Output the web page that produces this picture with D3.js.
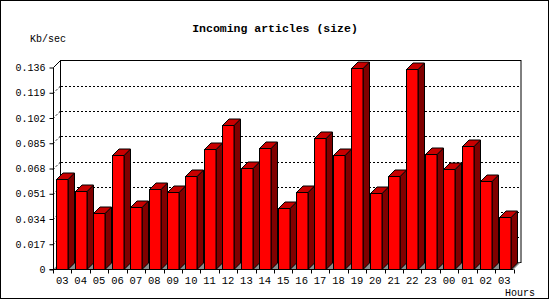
<!DOCTYPE html>
<html>
<head>
<meta charset="utf-8">
<script src="https://cdn.jsdelivr.net/npm/d3@7"></script>
<style>
  body { margin: 0; background: #fff; }
  text { font-family: "Liberation Mono", "DejaVu Sans Mono", monospace; }
</style>
</head>
<body>
<div id="chart"></div>
<script>
// hours along the x axis (last 24h, wraps past midnight)
const hours = ["03", "04", "05", "06", "07", "08", "09", "10", "11", "12", "13", "14",
    "15", "16", "17", "18", "19", "20", "21", "22", "23", "00", "01", "02", "03"];

// incoming size, Kb/sec
const kbPerSec = [0.0612, 0.0526, 0.0383, 0.0773, 0.0424, 0.0545, 0.0524, 0.0632, 0.0813, 0.0975,
    0.0686, 0.0820, 0.0417, 0.0524, 0.0887, 0.0773, 0.1360, 0.0518, 0.0627, 0.1347,
    0.0780, 0.0679, 0.0834, 0.0594, 0.0356];

const yTicks = [0, 0.017, 0.034, 0.051, 0.068, 0.085, 0.102, 0.119, 0.136];

function drawChart() {
    const width = 550, height = 300;
    const depth = 7;          // 3d offset
    const left = 53, right = 513.5, base = 269.5;

    const svg = d3.select("#chart")
        .append("svg")
        .attr("width", width)
        .attr("height", height);

    // outer frame
    svg.append("rect")
        .attr("x", 0.5).attr("y", 0.5)
        .attr("width", width - 2).attr("height", height - 2)
        .attr("fill", "#fff").attr("stroke", "#000");

    const y = d3.scaleLinear()
        .domain([0, d3.max(yTicks)])
        .range([base, 67.5]);

    const x = d3.scaleBand()
        .domain(d3.range(hours.length))
        .range([left, right]);

    // back wall
    svg.append("rect")
        .attr("x", left + depth + 0.5).attr("y", y(d3.max(yTicks)) - depth)
        .attr("width", right - left).attr("height", base - y(d3.max(yTicks)))
        .attr("fill", "#fff").attr("stroke", "#000");

    // dotted grid on back wall and left side
    const grid = svg.append("g")
        .attr("stroke", "#000")
        .attr("stroke-dasharray", "2,2");
    yTicks.slice(1, -1).forEach(v => {
        const yy = Math.round(y(v)) + 0.5;
        grid.append("line")
            .attr("x1", left + depth + 1).attr("x2", right + depth)
            .attr("y1", yy - depth).attr("y2", yy - depth);
        grid.append("line")
            .attr("x1", left).attr("x2", left + depth)
            .attr("y1", yy).attr("y2", yy - depth);
    });

    // grey floor
    svg.append("path")
        .attr("d", `M${left},${base}L${right},${base}L${right + depth},${base - depth}L${left + depth},${base - depth}Z`)
        .attr("fill", "#8c8c8c");

    // bars
    const barW = 11.5;
    const bars = svg.append("g")
        .attr("stroke", "#000")
        .attr("stroke-linejoin", "miter");

    kbPerSec.forEach((v, i) => {
        const x0 = Math.round(x(i) + 3.5) + 0.5;
        const x1 = x0 + barW;
        const yt = Math.round(y(v)) + 0.5;
        const yb = base;
        const d = depth - 0.5;
        // side
        bars.append("path")
            .attr("d", `M${x1},${yb}L${x1 + d},${yb - d}L${x1 + d},${yt - d}L${x1},${yt}Z`)
            .attr("fill", "#800000");
        // top
        bars.append("path")
            .attr("d", `M${x0},${yt}L${x0 + d},${yt - d}L${x1 + d},${yt - d}L${x1},${yt}Z`)
            .attr("fill", "#c80000");
        // front
        bars.append("rect")
            .attr("x", x0).attr("y", yt)
            .attr("width", barW).attr("height", yb - yt)
            .attr("fill", "#ff0000");
    });

    // front y axis + link to back wall
    svg.append("line")
        .attr("x1", left + 0.5).attr("x2", left + depth + 0.5)
        .attr("y1", y(d3.max(yTicks))).attr("y2", y(d3.max(yTicks)) - depth)
        .attr("stroke", "#000");

    svg.append("g")
        .attr("transform", `translate(${left + 0.5},0)`)
        .call(d3.axisLeft(y)
            .tickValues(yTicks)
            .tickSize(4)
            .tickPadding(4)
            .tickFormat(d => d === 0 ? "0" : d3.format(".3f")(d)))
        .call(g => g.selectAll("text").attr("font-size", 10).attr("fill", "#000")
            .attr("font-family", "Liberation Mono, monospace"))
        .call(g => g.selectAll("line, path").attr("stroke", "#000"))
        .call(g => g.select(".domain").attr("d", `M-4,${base}H0V${y(d3.max(yTicks))}`));

    // x axis: labels centered, ticks on boundaries
    const xAxis = svg.append("g")
        .attr("transform", `translate(0,${base})`)
        .call(d3.axisBottom(x)
            .tickSize(0)
            .tickPadding(7)
            .tickFormat(i => hours[i]))
        .call(g => g.selectAll("text").attr("font-size", 10.5).attr("fill", "#000")
            .attr("font-family", "Liberation Mono, monospace"))
        .call(g => g.select(".domain").attr("stroke", "#000").attr("d", `M${left},0H${right}`));

    xAxis.append("g")
        .selectAll("line")
        .data(d3.range(hours.length + 1))
        .join("line")
        .attr("x1", i => Math.round(left + i * x.step()) + 0.5)
        .attr("x2", i => Math.round(left + i * x.step()) + 0.5)
        .attr("y1", 0).attr("y2", 4)
        .attr("stroke", "#000");

    // titles
    svg.append("text")
        .attr("x", 275).attr("y", 32)
        .attr("text-anchor", "middle")
        .attr("font-size", 11.5)
        .attr("font-weight", "bold")
        .text("Incoming articles (size)");

    svg.append("text")
        .attr("x", 30).attr("y", 41.5)
        .attr("font-size", 10)
        .text("Kb/sec");

    svg.append("text")
        .attr("x", 505).attr("y", 295.5)
        .attr("font-size", 10)
        .text("Hours");
}

drawChart();
</script>
</body>
</html>
